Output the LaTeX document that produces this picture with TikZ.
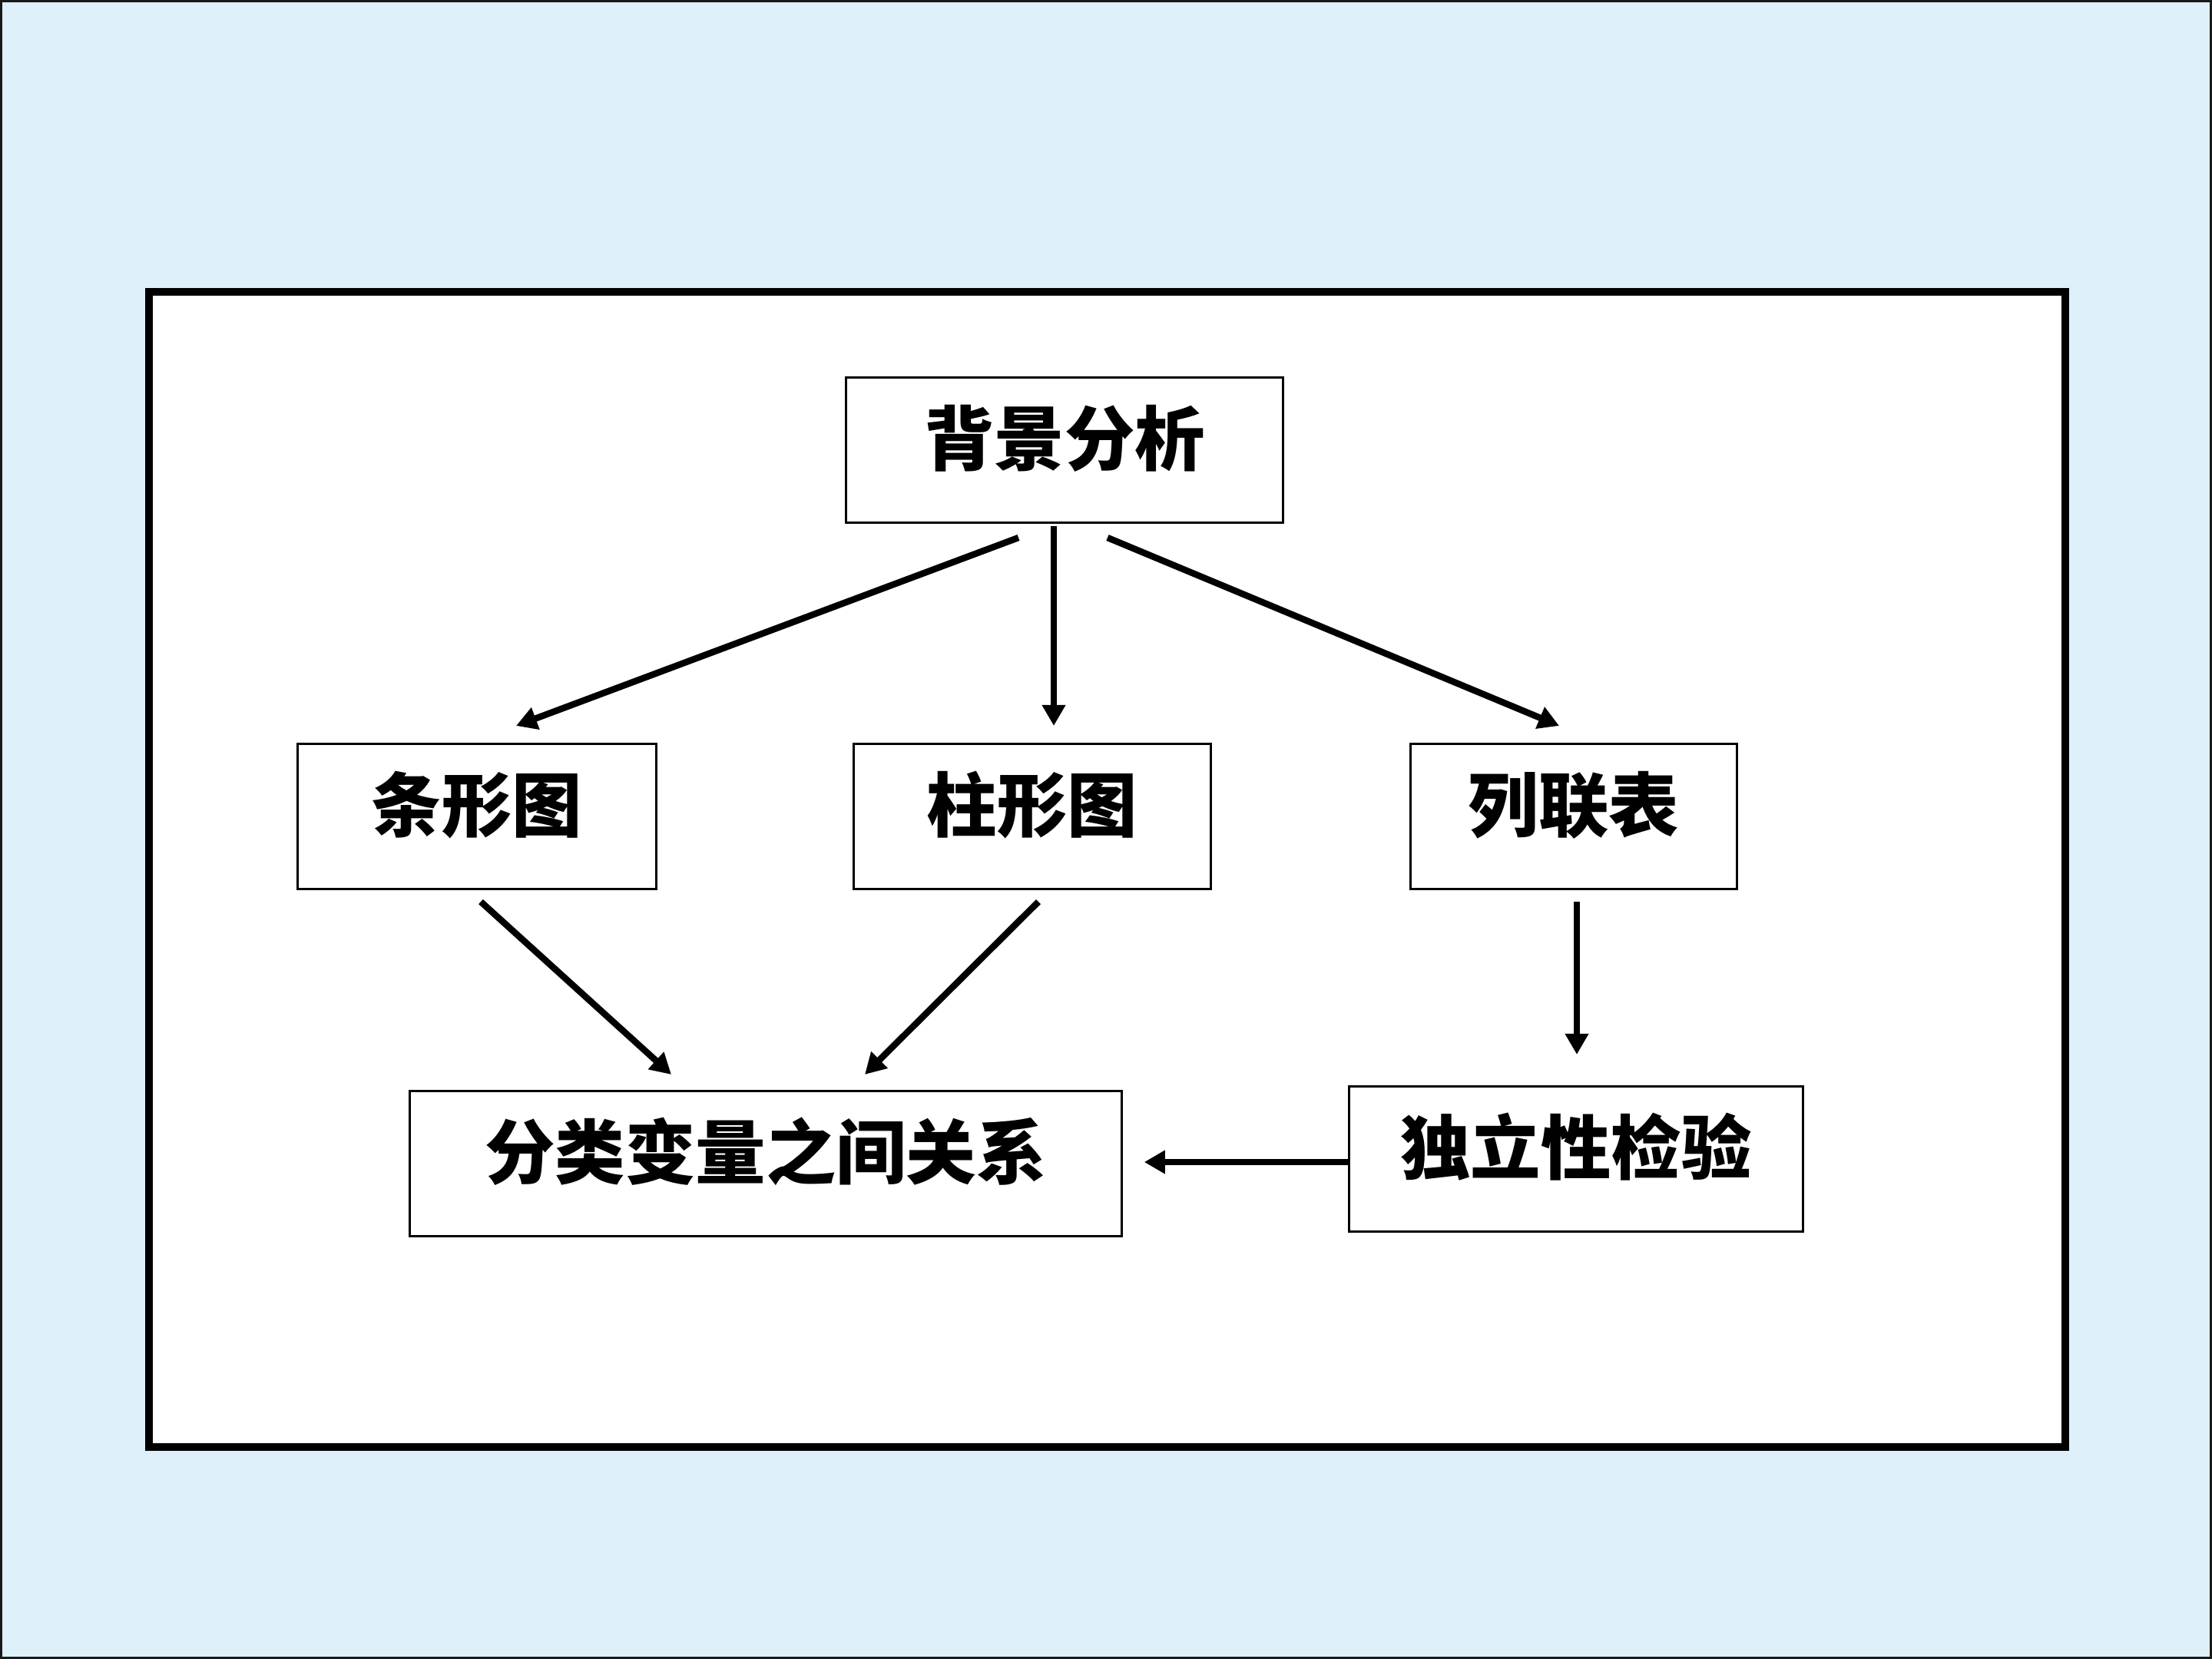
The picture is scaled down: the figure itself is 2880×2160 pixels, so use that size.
\documentclass[tikz,border=0pt]{standalone}
\usepackage{fontspec}
\usepackage{tikz}
\usetikzlibrary{arrows.meta,calc}
\newfontfamily\cjk{Noto Sans CJK SC}
\definecolor{bgblue}{RGB}{222,240,250}

\begin{document}
\begin{tikzpicture}[x=0.01cm,y=-0.01cm]
	  \useasboundingbox (0,0) rectangle (2880,2160);
	  \tikzset{BoxStyle/.style = {shape        = rectangle,
	  							  draw,
	  							  line width   = 0.85pt,
	  							  fill         = white,
	  							  font         = \cjk\bfseries\fontsize{26pt}{30pt}\selectfont,
	  							  inner sep    = 0pt,
	  							  text height  = 1.14cm,
	  							  text depth   = 0.75cm}}

	  \tikzset{ArrowStyle/.style = {line width = 2.4pt,
	  								  -{Triangle[length=0.27cm,width=0.29cm]}}}

	  \tikzset{FrameStyle/.style = {line width = 2.6pt, fill = white}}

	  % background and frame
	  \fill[bgblue] (0,0) rectangle (2880,2160);
	  \draw[line width=0.85pt, black!90] (1.5,1.5) rectangle (2878.5,2158.5);
	  \draw[FrameStyle] (194,380) rectangle (2689,1884);

	     \node[BoxStyle, minimum width=5.68cm] (Bg)   at (1386,586)  {背景分析};
	     \node[BoxStyle, minimum width=4.67cm] (Tiao) at (621,1063)  {条形图};
	     \node[BoxStyle, minimum width=4.65cm] (Zhu)  at (1344,1063) {柱形图};
	     \node[BoxStyle, minimum width=4.24cm] (Lie)  at (2049,1063) {列联表};
	     \node[BoxStyle, minimum width=9.26cm] (Fen)  at (997,1515)  {分类变量之间关系};
	     \node[BoxStyle, minimum width=5.91cm] (Du)   at (2052,1509) {独立性检验};

	     \draw[ArrowStyle] ($(Bg.south)+(-60,18)$) -- ($(Tiao.north)+(51,-22)$);
	     \draw[ArrowStyle] ($(Bg.south)+(-14,3)$)  -- ($(Zhu.north)+(28,-22)$);
	     \draw[ArrowStyle] ($(Bg.south)+(56,18)$)  -- ($(Lie.north)+(-19,-22)$);

	     \draw[ArrowStyle] ($(Tiao.south)+(5,15)$) -- ($(Fen.north)+(-123,-20)$);
	     \draw[ArrowStyle] ($(Zhu.south)+(8,15)$)  -- ($(Fen.north)+(129,-20)$);
	     \draw[ArrowStyle] ($(Lie.south)+(4,15)$)  -- ($(Du.north)+(1,-40)$);

	     \draw[ArrowStyle] ($(Du.west)+(0,4)$) -- ($(Fen.east)+(28,-2)$);
	  \end{tikzpicture}
\end{document}
